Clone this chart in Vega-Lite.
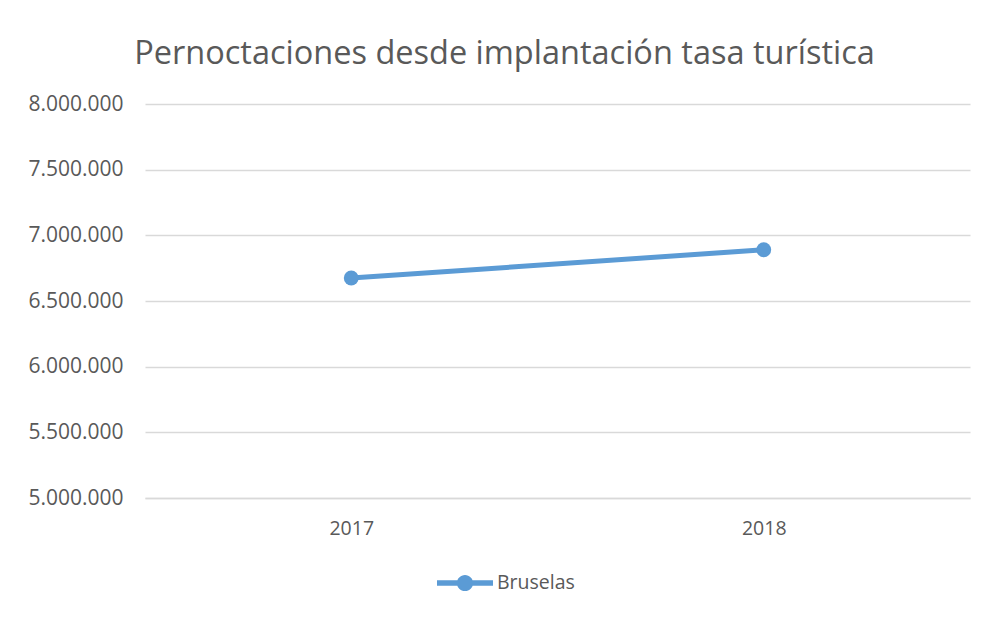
{
  "$schema": "https://vega.github.io/schema/vega-lite/v6.json",
  "autosize": {"type": "none"},
  "width": 825,
  "height": 394,
  "padding": {"left": 145, "top": 104, "right": 16, "bottom": 119},
  "background": "white",
  "title": {
    "text": "Pernoctaciones desde implantación tasa turística",
    "font": "Open Sans",
    "fontSize": 32.5,
    "fontWeight": "normal",
    "color": "#595959",
    "anchor": "middle",
    "dx": -53,
    "offset": 23
  },
  "data": {
    "values": [
      {"anio": "2017", "pernoctaciones": 6675000, "serie": "Bruselas"},
      {"anio": "2018", "pernoctaciones": 6890000, "serie": "Bruselas"}
    ]
  },
  "encoding": {
    "x": {
      "field": "anio",
      "type": "ordinal",
      "scale": {"type": "point", "padding": 0.5},
      "axis": {
        "title": null,
        "labelAngle": 0,
        "labelFont": "Open Sans",
        "labelFontSize": 19.5,
        "labelColor": "#595959",
        "labelPadding": 21,
        "ticks": false,
        "grid": false,
        "domainColor": "#d9d9d9",
        "domainWidth": 1.5
      }
    },
    "y": {
      "field": "pernoctaciones",
      "type": "quantitative",
      "scale": {"domain": [5000000, 8000000], "nice": false, "zero": false},
      "axis": {
        "title": null,
        "values": [5000000, 5500000, 6000000, 6500000, 7000000, 7500000, 8000000],
        "labelExpr": "replace(format(datum.value, ',.0f'), /,/g, '.')",
        "labelFont": "Open Sans",
        "labelFontSize": 21,
        "labelColor": "#595959",
        "labelPadding": 22,
        "ticks": false,
        "domain": false,
        "gridColor": "#d9d9d9",
        "gridWidth": 1.5
      }
    }
  },
  "layer": [
    {
      "mark": {"type": "line", "strokeWidth": 5, "strokeCap": "round"},
      "encoding": {
        "color": {
          "field": "serie",
          "type": "nominal",
          "scale": {"range": ["#5B9BD5"]},
          "legend": {
            "title": null,
            "orient": "none",
            "legendX": 292,
            "legendY": 451,
            "direction": "horizontal",
            "symbolType": "M-1,-0.1H1V0.1H-1Z M0.29,0 A0.29,0.29 0 1,1 -0.29,0 A0.29,0.29 0 1,1 0.29,0Z",
            "symbolSize": 3136,
            "symbolFillColor": "#5B9BD5",
            "symbolStrokeWidth": 0,
            "labelFont": "Open Sans",
            "labelFontSize": 19.5,
            "labelColor": "#595959",
            "labelOffset": 4
          }
        }
      }
    },
    {
      "mark": {"type": "point", "filled": true, "size": 220, "opacity": 1, "color": "#5B9BD5"}
    }
  ],
  "config": {
    "view": {"stroke": null}
  }
}
